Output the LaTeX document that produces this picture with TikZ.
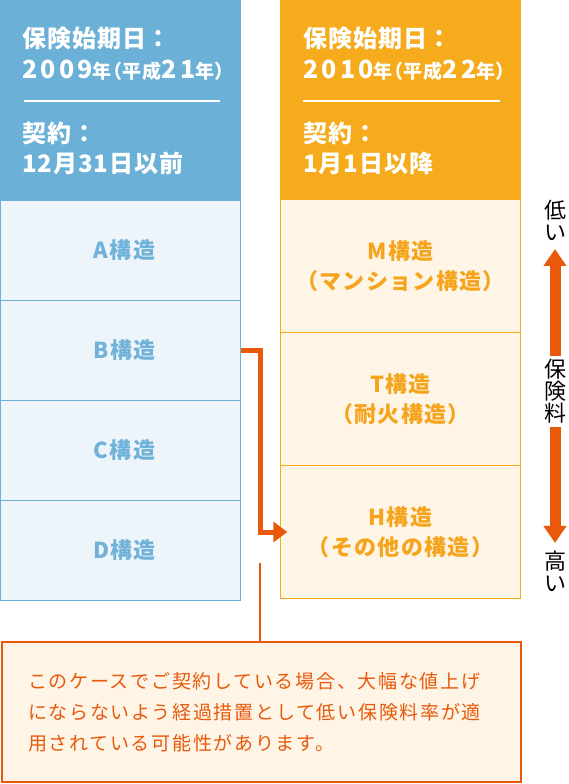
\documentclass[tikz,border=0pt]{standalone}
\usepackage{fontspec}
\setmainfont{Noto Sans CJK JP}
\newfontfamily\headfont{Noto Sans CJK JP}[LetterSpace=4]
\newfontfamily\digitfont{Noto Sans CJK JP}[LetterSpace=13]
\newfontfamily\parenfont{Noto Sans CJK JP}[RawFeature=+palt,LetterSpace=4]
\newfontfamily\cellfont{Noto Sans CJK JP}[LetterSpace=6]
\newfontfamily\notefont{Noto Sans CJK JP}[LetterSpace=9]
\usetikzlibrary{arrows.meta}
\definecolor{skyhead}{HTML}{6BB0D6}
\definecolor{skypale}{HTML}{EEF5FA}
\definecolor{skytext}{HTML}{70B2DA}
\definecolor{amberhead}{HTML}{F5AB1B}
\definecolor{amberpale}{HTML}{FEF5E7}
\definecolor{ambertext}{HTML}{F5A41C}
\definecolor{rust}{HTML}{E8590C}
\newcommand\bignum[1]{{\digitfont\fontsize{25}{26}\selectfont #1}}
\newcommand\smallnote[1]{{\parenfont\fontsize{19}{20}\selectfont #1}}
\begin{document}
\begin{tikzpicture}
  [x=1pt,y=-1pt,every node/.style={inner sep=0pt}]
  \tikzstyle{head} = [anchor=west,text=white,font=\headfont\bfseries\fontsize{24}{26}\selectfont]
  \tikzstyle{bluecell} = [draw=skyhead,fill=skypale,minimum width=240,minimum height=100,
    text=skytext,font=\cellfont\bfseries\fontsize{22}{24}\selectfont]
  \tikzstyle{ambercell} = [draw=amberhead,fill=amberpale,minimum width=240,minimum height=133,
    text=ambertext,align=center,font=\cellfont\bfseries\fontsize{22}{30}\selectfont]
  \tikzstyle{legend} = [align=center,font=\fontsize{22}{22}\selectfont]
  \tikzstyle{fat} = [rust,line width=11,-{Triangle[width=22pt,length=17pt]}]
  \useasboundingbox (0,0) rectangle (568,784);

  % left column
  \fill[skyhead] (0,0) rectangle (241,200);
  \node[head] (l1) at (22,38) {保険始期日：};
  \node[head] (l2) at (22,70) {\bignum{2009}\smallnote{年（平成}\bignum{21}\smallnote{年）}};
  \draw[white,line width=2] (24,101) -- (220,101);
  \node[head] (l3) at (22,133) {契約：};
  \node[head] (l4) at (22,163) {12月31日以前};
  \foreach \name/\y/\label in {a/250/A,b/350/B,c/450/C,d/550/D}
    \node[bluecell] (\name) at (120.5,\y) {\hspace{8pt}\label 構造};

  % right column
  \fill[amberhead] (280,0) rectangle (521,200);
  \node[head] (r1) at (303,38) {保険始期日：};
  \node[head] (r2) at (303,70) {\bignum{2010}\smallnote{年（平成}\bignum{22}\smallnote{年）}};
  \draw[white,line width=2] (303,101) -- (500,101);
  \node[head] (r3) at (303,133) {契約：};
  \node[head] (r4) at (303,163) {1月1日以降};
  \foreach \name/\y/\label in {m/266/M構造\\（マンション構造）,t/399/T構造\\（耐火構造）,h/532/H構造\\（その他の構造）}
    \node[ambercell] (\name) at (400.5,\y) {\label};

  % transfer arrow
  \draw[rust,line width=5,-{Triangle[width=20pt,length=14pt]},shorten >=-7pt]
    (b.east) -- ++(19.5,0) |- (h.west);

  % premium scale
  \node[legend] (low) at (555,220.5) {低\\い};
  \node[legend] (fee) at (555,391.5) {保\\険\\料};
  \node[legend] (high) at (555,571.5) {高\\い};
  \draw[fat,shorten <=3pt,shorten >=8pt] (fee.north) -- (low.south);
  \draw[fat,shorten <=3pt,shorten >=8pt] (fee.south) -- (high.north);

  % note
  \node[draw=rust,fill=amberpale,line width=2,inner xsep=26,text width=467,minimum height=140,
    align=left,text=rust,font=\notefont\fontsize{19}{31}\selectfont] (note) at (261.5,712)
    {このケースでご契約している場合、大幅な値上げ\\にならないよう経過措置として低い保険料率が適\\用されている可能性があります。};
  \coordinate (join) at (260,563);
  \draw[rust,line width=1.5] (join) -- (join |- note.north);
\end{tikzpicture}
\end{document}
